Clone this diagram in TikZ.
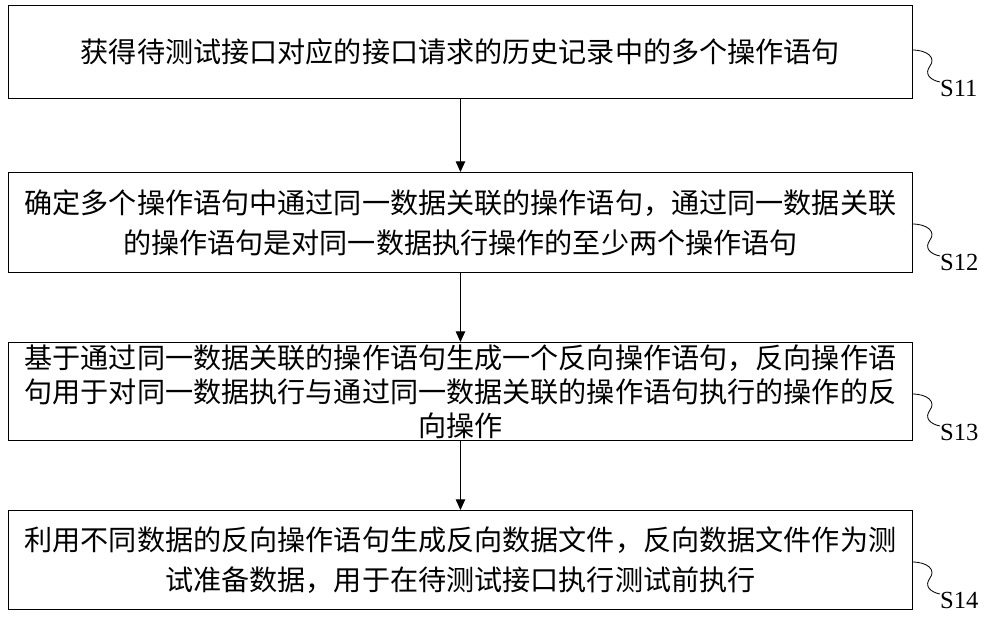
\documentclass[tikz,border=0pt]{standalone}
\usepackage{fontspec}
\setmainfont{Liberation Serif}
\newfontfamily\cjk{Noto Sans CJK SC}
\usetikzlibrary{arrows.meta}
\begin{document}
\begin{tikzpicture}[x=0.03cm,y=-0.03cm,
  stepbox/.style={draw,line width=0.8pt,minimum width=904*0.03cm,anchor=north west,inner sep=0pt,align=center,font=\cjk\fontsize{24}{34}\selectfont},
  arr/.style={-{Triangle[length=9pt,width=8pt]},line width=0.8pt},
  lab/.style={font=\fontsize{21}{24}\selectfont,anchor=west},
  sq/.style={line width=0.7pt}]
\useasboundingbox (0,0) rectangle (1000,617);
\node[stepbox,minimum height=93*0.03cm] (b1) at (8,5) {获得待测试接口对应的接口请求的历史记录中的多个操作语句};
\node[stepbox,minimum height=100*0.03cm] (b2) at (8,172) {确定多个操作语句中通过同一数据关联的操作语句，通过同一数据关联\\的操作语句是对同一数据执行操作的至少两个操作语句};
\node[stepbox,minimum height=98*0.03cm,font=\cjk\fontsize{24}{29}\selectfont] (b3) at (8,342) {基于通过同一数据关联的操作语句生成一个反向操作语句，反向操作语\\句用于对同一数据执行与通过同一数据关联的操作语句执行的操作的反\\向操作};
\node[stepbox,minimum height=99*0.03cm] (b4) at (8,510) {利用不同数据的反向操作语句生成反向数据文件，反向数据文件作为测\\试准备数据，用于在待测试接口执行测试前执行};
\draw[arr] (b1.south) -- (b2.north);
\draw[arr] (b2.south) -- (b3.north);
\draw[arr] (b3.south) -- (b4.north);
\foreach \b/\t/\y in {b1/S11/88,b2/S12/262,b3/S13/432,b4/S14/600}{
  \node[lab] (l\b) at (936,\y) {\t};
  \draw[sq] (912,\y-38) .. controls (928,\y-38) and (936,\y-30) .. (930,\y-22) .. controls (924,\y-14) and (930,\y-8) .. (940,\y-6);
}
\end{tikzpicture}
\end{document}
